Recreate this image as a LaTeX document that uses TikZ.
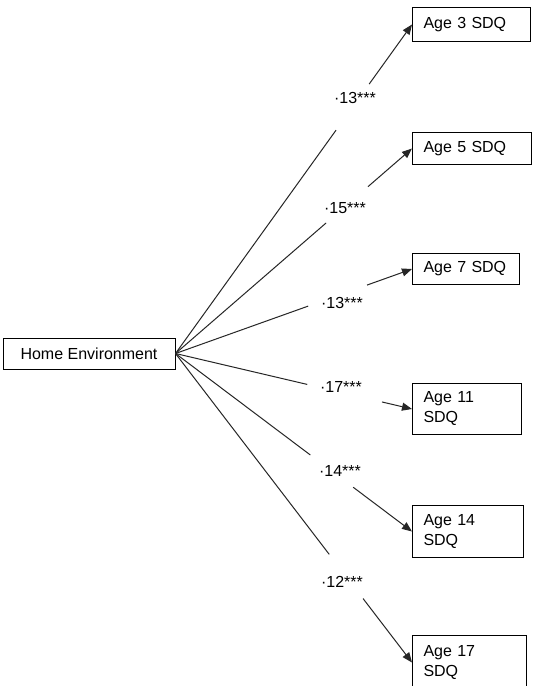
\documentclass[tikz,border=0pt]{standalone}
\usepackage{fontspec}
\setmainfont{Liberation Sans}
\usetikzlibrary{arrows.meta,calc}

\tikzset{
  box/.style={draw, line width=1pt, inner ysep=0pt, font=\fontsize{16}{20}\selectfont},
  agebox/.style 2 args={box, anchor=north west, inner xsep=11pt, align=left,
    text width=#1, minimum height=#2},
  conn/.style={line width=1pt, draw=black!85},
  tip/.style={conn, -{Triangle[length=10pt,width=8pt]}},
  lbl/.style={font=\fontsize{16}{18}\selectfont, inner sep=0pt}
}

\begin{document}
\begin{tikzpicture}[x=1pt,y=-1pt]
  \path[use as bounding box, fill=white] (0,0) rectangle (533,686);

  % predictor
  \node[box, minimum width=172pt, minimum height=31pt] (home) at (89,353.5) {Home Environment};

  % outcomes
  \node[agebox={96pt}{34pt}] (a3)  at (412,7)   {Age 3 SDQ};
  \node[agebox={97pt}{32pt}] (a5)  at (412,132) {Age 5 SDQ};
  \node[agebox={85pt}{31pt}] (a7)  at (412,253) {Age 7 SDQ};
  \node[agebox={87pt}{51pt}] (a11) at (412,383) {Age 11\\SDQ};
  \node[agebox={89pt}{52pt}] (a14) at (412,505) {Age 14\\SDQ};
  \node[agebox={92pt}{54pt}] (a17) at (412,635) {Age 17\\SDQ};

  % paths, broken where the coefficient sits
  \foreach \t/\pa/\pb/\lx/\ly/\c in {
      a3/0.679/0.819/355/98/13,
      a5/0.637/0.814/345/208/15,
      a7/0.561/0.810/342/303/13,
      a11/0.557/0.873/341/387/17,
      a14/0.570/0.751/340/471/14,
      a17/0.650/0.793/342/582/12} {
    \draw[conn] (home.east) -- ($(home.east)!\pa!(\t.west)$);
    \draw[tip] ($(home.east)!\pb!(\t.west)$) -- (\t.west);
    \node[lbl] (l\t) at (\lx,\ly) {·\c***};
  }
\end{tikzpicture}
\end{document}
